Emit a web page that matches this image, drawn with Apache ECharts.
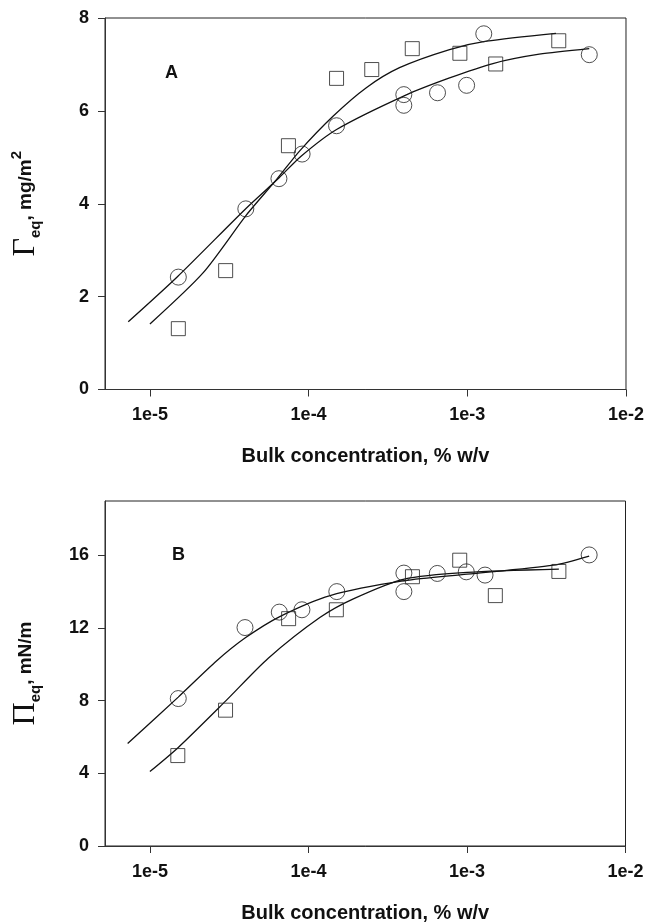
<!DOCTYPE html>
<html>
<head>
<meta charset="utf-8">
<script src="https://cdn.jsdelivr.net/npm/echarts@6/dist/echarts.min.js"></script>
<style>
html,body{margin:0;padding:0;background:#fff;}
#chart{width:647px;height:924px;}
</style>
</head>
<body>
<div id="chart"></div>
<script>
// ---- tick labels ----
const xTickValues = [1e-5, 1e-4, 1e-3, 1e-2];
const yTicksA = [0, 2, 4, 6, 8];
const yTicksB = [0, 4, 8, 12, 16];

// ---- Panel A: Gamma_eq (mg/m^2) ----
const aCircX = [1.51e-5, 4.02e-5, 6.5e-5, 9.1e-5, 1.5e-4, 3.98e-4, 3.98e-4, 6.49e-4, 9.9e-4, 1.27e-3, 5.87e-3];
const aCircY = [2.42, 3.89, 4.54, 5.07, 5.68, 6.35, 6.12, 6.39, 6.55, 7.66, 7.21];
const aSqX = [1.51e-5, 3.0e-5, 7.46e-5, 1.5e-4, 2.5e-4, 4.5e-4, 8.98e-4, 1.51e-3, 3.77e-3];
const aSqY = [1.31, 2.56, 5.25, 6.70, 6.89, 7.34, 7.24, 7.01, 7.51];
const aCircFitX = [7.3e-6, 1.49e-5, 4.06e-5, 6.52e-5, 9.0e-5, 1.5e-4, 4.03e-4, 7.73e-4, 1.45e-3, 2.84e-3, 5.87e-3];
const aCircFitY = [1.46, 2.43, 3.91, 4.56, 5.03, 5.60, 6.33, 6.71, 7.02, 7.22, 7.34];
const aSqFitX = [1.0e-5, 2.16e-5, 4.06e-5, 6.27e-5, 8.79e-5, 1.43e-4, 2.31e-4, 3.74e-4, 7.73e-4, 1.32e-3, 3.62e-3];
const aSqFitY = [1.41, 2.51, 3.76, 4.52, 5.14, 5.89, 6.50, 6.93, 7.32, 7.50, 7.67];

// ---- Panel B: Pi_eq (mN/m) ----
const bCircX = [1.51e-5, 3.98e-5, 6.55e-5, 9.1e-5, 1.51e-4, 4.0e-4, 4.0e-4, 6.5e-4, 9.9e-4, 1.3e-3, 5.9e-3];
const bCircY = [8.12, 12.03, 12.88, 13.01, 14.01, 15.03, 14.01, 15.01, 15.10, 14.92, 16.03];
const bSqX = [1.5e-5, 3.0e-5, 7.5e-5, 1.5e-4, 4.53e-4, 9.0e-4, 1.51e-3, 3.8e-3];
const bSqY = [4.98, 7.48, 12.52, 13.01, 14.83, 15.74, 13.79, 15.12];
const bCircFitX = [7.24e-6, 1.51e-5, 2.64e-5, 3.98e-5, 6.55e-5, 1.37e-4, 4.02e-4, 1.0e-3, 3.52e-3, 5.9e-3];
const bCircFitY = [5.65, 8.20, 10.20, 11.45, 12.62, 13.79, 14.61, 14.97, 15.47, 15.97];
const bSqFitX = [1.0e-5, 1.51e-5, 3.0e-5, 5.58e-5, 1.18e-4, 1.92e-4, 4.02e-4, 1.0e-3, 3.8e-3];
const bSqFitY = [4.10, 5.43, 7.98, 10.34, 12.58, 13.61, 14.70, 15.07, 15.25];

const xTitle = 'Bulk concentration, % w/v';

function pairs(xs, ys) { return xs.map((x, i) => [x, ys[i]]); }

const SANS = '"Liberation Sans", Arial, Helvetica, sans-serif';
const SERIF = '"Liberation Serif", "Times New Roman", serif';
const AX = '#333';

function xAxisCfg(gi) {
  return {
    type: 'log', logBase: 10, gridIndex: gi,
    min: 5.21e-6, max: 1e-2,
    axisLine: { show: true, lineStyle: { color: AX, width: 1 } },
    axisTick: { show: true, inside: false, length: 7, customValues: xTickValues, lineStyle: { color: AX, width: 1 } },
    axisLabel: {
      customValues: xTickValues,
      formatter: v => '1e' + Math.round(Math.log10(v)),
      fontFamily: SANS, fontSize: 18, fontWeight: 'bold', color: '#111', margin: 17
    },
    splitLine: { show: false },
    minorTick: { show: false },
    name: xTitle, nameLocation: 'middle', nameGap: 57,
    nameTextStyle: { fontFamily: SANS, fontSize: 20, fontWeight: 'bold', color: '#111' }
  };
}

function yAxisCfg(gi, max, interval, ticks, richName) {
  return {
    type: 'value', gridIndex: gi, min: 0, max: max, interval: interval,
    axisLine: { show: true, lineStyle: { color: AX, width: 1 } },
    axisTick: { show: true, inside: false, length: 7, customValues: ticks, lineStyle: { color: AX, width: 1 } },
    axisLabel: { customValues: ticks, fontFamily: SANS, fontSize: 18, fontWeight: 'bold', color: '#111', margin: 16 },
    splitLine: { show: false },
    name: richName, nameLocation: 'middle', nameGap: 62, nameRotate: 90,
    nameTextStyle: {
      color: '#111',
      rich: {
        g: { fontFamily: SERIF, fontSize: 32, lineHeight: 34, color: '#111' },
        s: { fontFamily: SANS, fontSize: 15, fontWeight: 'bold', lineHeight: 17, verticalAlign: 'bottom', color: '#111' },
        t: { fontFamily: SANS, fontSize: 19, fontWeight: 'bold', lineHeight: 22, color: '#111' },
        p: { fontFamily: SANS, fontSize: 15, fontWeight: 'bold', lineHeight: 17, verticalAlign: 'top', color: '#111' }
      }
    }
  };
}

function scatter(xi, yi, data, sym, size) {
  return {
    type: 'scatter', xAxisIndex: xi, yAxisIndex: yi, data: data,
    symbol: sym, symbolSize: size,
    itemStyle: { color: 'rgba(0,0,0,0)', borderColor: '#222', borderWidth: 1 },
    z: 3
  };
}
function fit(xi, yi, data) {
  return {
    type: 'line', xAxisIndex: xi, yAxisIndex: yi, data: data,
    showSymbol: false, symbol: 'none', smooth: 0.25,
    lineStyle: { color: '#111', width: 1.3 }, z: 2
  };
}

const option = {
  backgroundColor: '#fff',
  animation: false,
  grid: [
    { left: 105, top: 18, width: 521.5, height: 371.5, show: true, borderColor: '#222', borderWidth: 1, backgroundColor: 'rgba(0,0,0,0)' },
    { left: 105, top: 501, width: 520.5, height: 348.5, show: true, borderColor: '#222', borderWidth: 1, backgroundColor: 'rgba(0,0,0,0)' }
  ],
  xAxis: [xAxisCfg(0), xAxisCfg(1)],
  yAxis: [
    yAxisCfg(0, 8, 2, yTicksA, '{g|Γ}{s|eq}{t|, mg/m}{p|2}'),
    yAxisCfg(1, 19, 4, yTicksB, '{g|Π}{s|eq}{t|, mN/m}')
  ],
  graphic: [
    { type: 'text', left: 165, top: 64, style: { text: 'A', font: 'bold 18px ' + SANS, fill: '#111' } },
    { type: 'text', left: 172, top: 546, style: { text: 'B', font: 'bold 18px ' + SANS, fill: '#111' } }
  ],
  series: [
    fit(0, 0, pairs(aCircFitX, aCircFitY)),
    fit(0, 0, pairs(aSqFitX, aSqFitY)),
    scatter(0, 0, pairs(aCircX, aCircY), 'circle', 16),
    scatter(0, 0, pairs(aSqX, aSqY), 'rect', 14),
    fit(1, 1, pairs(bCircFitX, bCircFitY)),
    fit(1, 1, pairs(bSqFitX, bSqFitY)),
    scatter(1, 1, pairs(bCircX, bCircY), 'circle', 16),
    scatter(1, 1, pairs(bSqX, bSqY), 'rect', 14)
  ]
};

const chart = echarts.init(document.getElementById('chart'), null, { renderer: 'canvas' });
chart.setOption(option);
</script>
</body>
</html>
